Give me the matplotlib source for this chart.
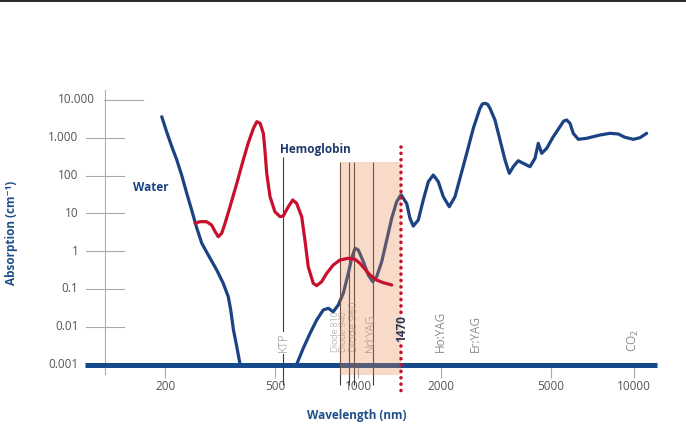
import matplotlib
matplotlib.use('Agg')
import matplotlib.pyplot as plt
import matplotlib.transforms as mtransforms
from matplotlib.patches import Rectangle
from matplotlib.lines import Line2D
from matplotlib.ticker import NullLocator

plt.rcParams['font.family'] = ['Open Sans', 'DejaVu Sans']

# absorption coefficients (cm^-1)
water_nm = [194, 202, 211, 220, 229, 239, 249, 260, 271, 286,
            307, 324, 338, 345, 353, 363, 373, 382, 575, 598,
            632, 669, 707, 747, 779, 812, 847, 883, 921, 947,
            974, 1001, 1044, 1088, 1129, 1167, 1217, 1269, 1323, 1379,
            1430, 1500, 1541, 1584, 1652, 1722, 1796, 1872, 1952, 2035,
            2139, 2244, 2339, 2475, 2615, 2764, 2820, 2883, 2945, 3006,
            3133, 3268, 3407, 3531, 3651, 3806, 3968, 4197, 4377, 4498,
            4628, 4826, 5098, 5391, 5560, 5702, 5861, 6024, 6282, 6738,
            7528, 8185, 8772, 9277, 9943, 10515, 11120]
water_abs = [3597, 1442, 578, 257, 103, 33.8, 12.2, 4.01, 1.61, 0.789,
             0.316, 0.141, 0.0622, 0.0277, 0.00818, 0.00296, 0.001, 0.0005, 0.0005, 0.001,
             0.00268, 0.00668, 0.0150, 0.0277, 0.0307, 0.0249, 0.0375, 0.0766, 0.259, 0.646,
             1.19, 1.07, 0.525, 0.233, 0.155, 0.21, 0.525, 1.97, 7.38, 20.3,
             31, 18, 7.4, 4.6, 6.65, 22.5, 68.5, 103, 68.5, 27.5,
             14.95, 27.5, 84.3, 386, 1774, 5995, 7800, 8130, 7700, 5995,
             2940, 869, 257, 114, 171, 246, 210, 171, 285, 711,
             386, 525, 1062, 1954, 2750, 2940, 2404, 1307, 907, 964,
             1178, 1307, 1253, 1025, 907, 1000, 1307]

hb_nm = [256, 267, 282, 294, 303, 311, 320, 329, 343, 363,
         383, 399, 417, 429, 441, 453, 459, 466, 479, 499,
         521, 535, 558, 579, 598, 624, 641, 659, 687, 707,
         737, 769, 812, 859, 921, 974, 1015, 1059, 1104, 1167,
         1233, 1323]
hb_abs = [5.43, 6.0, 6.0, 4.9, 3.26, 2.40, 2.96, 5.43, 14.95, 62.2,
          257, 711, 1774, 2650, 2404, 1307, 473, 114, 27.5, 11.0,
          8.13, 8.49, 14.95, 22.5, 18.4, 8.13, 1.97, 0.386, 0.141, 0.122,
          0.155, 0.259, 0.428, 0.582, 0.646, 0.607, 0.475, 0.331, 0.233, 0.172,
          0.146, 0.127]

# lasers drawn with a line (position as placed in the picture)
laser_names = ['KTP', 'Diode 810', 'Diode 940', 'Diode 980', 'Nd:YAG']
laser_nm = [535, 859, 926, 966, 1129]
laser_top = [314, 230, 230, 230, 230]
laser_size = [8.5, 6.3, 6.3, 7.8, 8.5]
label_shift = [0, -3.4, -3.6, 0, -1.8]   # points, label left of its line

# lasers with a label only
other_names = ['Ho:YAG', 'Er:YAG', 'CO$_2$']
other_nm = [1980, 2652, 9917]

diode_nm = 1430      # 1470 nm line
window_nm = [859, 1430]
window_top = 230

x_ticks = [200, 500, 1000, 2000, 5000, 10000]
x_labels = ['200', '500', '1000', '2000', '5000', '10000']
y_ticks = [0.001, 0.01, 0.1, 1, 10, 100, 1000, 10000]
y_labels = ['0.001', '0.01', '0.1', '1', '10', '100', '1.000', '10.000']

navy = '#1b4282'
red = '#c8102e'
grey_txt = '#8c8c8c'
W, H = 686, 437

fig = plt.figure(figsize=(W / 100, H / 100), dpi=100)
ax = fig.add_axes([85 / W, 1 - 364.5 / H, 572 / W, 274.5 / H])
ax.set_xscale('log')
ax.set_yscale('log')
ax.set_xlim(102.2, 12120)
ax.set_ylim(0.001, 18280)
ax.set_autoscale_on(False)

for s in ['top', 'right', 'left']:
    ax.spines[s].set_visible(False)
ax.spines['bottom'].set_linewidth(3.6)
ax.spines['bottom'].set_color('#154a8c')
ax.spines['bottom'].set_capstyle('butt')

ax.set_xticks(x_ticks)
ax.set_xticklabels(x_labels)
ax.xaxis.set_minor_locator(NullLocator())
ax.yaxis.set_minor_locator(NullLocator())
ax.tick_params(axis='x', which='major', direction='out', length=9.7, width=0.8,
               color='#a3aab0', pad=1.5, labelsize=8.5, labelcolor='#555555')
ax.tick_params(axis='y', which='both', left=False, labelleft=False)

# hand drawn y axis
blend = mtransforms.blended_transform_factory(fig.transFigure, ax.transData)
ax.plot([105 / W, 105 / W], [0.00055, 18280], transform=blend, color='#a3b0b6',
        lw=0.8, clip_on=False, zorder=1)
for v, lab in zip(y_ticks, y_labels):
    if v == 10000:
        x0, x1, xt = 104, 143, 95
    else:
        x0, x1, xt = 86, 124, 78.5
    ax.plot([x0 / W, x1 / W], [v, v], transform=blend, color='#a3aab0', lw=0.8,
            clip_on=False, zorder=1)
    ax.text(xt / W, v, lab, transform=blend, ha='right', va='center',
            fontsize=8.5, color='#555555')

# curves
ax.plot(water_nm, water_abs, color=navy, lw=2.3, zorder=2,
        solid_joinstyle='round', solid_capstyle='round')

# laser lines and labels
for name, nm, top, fs, dx in zip(laser_names, laser_nm, laser_top, laser_size, label_shift):
    ax.vlines(nm, 0.00029, top, color='#3c3c3c', lw=0.8, zorder=2.6, clip_on=False)
    box = dict(boxstyle='square,pad=0.1', fc='white', ec='none') if name == 'KTP' else None
    ax.annotate(name, xy=(nm, 0.0021), xytext=(dx, 0), textcoords='offset points',
                rotation=90, ha='center', va='bottom', fontsize=fs,
                color=grey_txt, zorder=2.7, bbox=box, fontweight='light')

for name, nm in zip(other_names, other_nm):
    ax.text(nm, 0.0021, name, rotation=90, ha='center', va='bottom', fontsize=8.5,
            color=grey_txt, zorder=2.7)

ax.add_patch(Rectangle((window_nm[0], 0.00054), window_nm[1] - window_nm[0],
                       window_top - 0.00054, fc='#ea8953', ec='none', alpha=0.31,
                       zorder=3, clip_on=False))

ax.plot(hb_nm, hb_abs, color=red, lw=2.3, zorder=4,
        solid_joinstyle='round', solid_capstyle='round')

# 1470 nm dotted marker
dot = dict(color='#c0142e', lw=2.6, linestyle=(0, (0.01, 1.75)),
           dash_capstyle='round', zorder=5, clip_on=False)
ax.plot([diode_nm, diode_nm], [578, 0.021], **dot)
ax.plot([diode_nm, diode_nm], [0.0031, 0.00018], **dot)
ax.text(diode_nm * 1.01, 0.0088, '1470', rotation=90, ha='center', va='center',
        fontsize=8.5, fontweight='bold', color='#2d3452', zorder=6)

# series names
ax.text(152.6, 49.6, 'Water', ha='left', va='center', fontsize=8.5,
        fontweight='bold', color=navy)
ax.text(520, 473, 'Hemoglobin', ha='left', va='center', fontsize=8.5,
        fontweight='bold', color='#1f3a6e')

fig.text(357 / W, 1 - 416 / H, 'Wavelength (nm)', ha='center', va='center',
         fontsize=8.5, fontweight='bold', color='#1f4f8a')
fig.text(12 / W, 1 - 233 / H, 'Absorption (cm\u207b\u00b9)', rotation=90, ha='center',
         va='center', fontsize=8.5, fontweight='bold', color='#1f4f8a')

fig.add_artist(Line2D([0, 1], [1 - 0.8 / H] * 2, transform=fig.transFigure,
                      color='black', lw=1.2))

fig.savefig('out.png', dpi=100)
